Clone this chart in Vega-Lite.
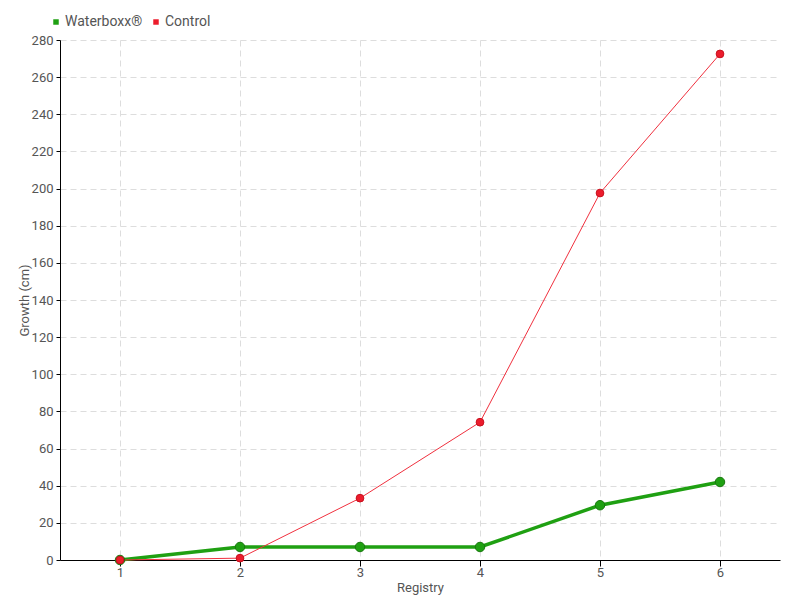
{
  "$schema": "https://vega.github.io/schema/vega-lite/v6.json",
  "width": 720,
  "height": 520,
  "autosize": {"type": "none"},
  "padding": {"left": 60, "top": 40, "right": 20, "bottom": 40},
  "background": "white",
  "config": {
    "font": "Roboto",
    "view": {"stroke": null},
    "axis": {
      "labelColor": "#555555",
      "titleColor": "#555555",
      "labelFontSize": 13,
      "titleFontSize": 13,
      "titleFontWeight": "normal",
      "domainColor": "#000000",
      "tickColor": "#000000",
      "gridColor": "#dddddd",
      "gridDash": [6, 4]
    }
  },
  "data": {
    "values": [
      {"registry": 1, "growth": 0, "series": "Waterboxx®"},
      {"registry": 2, "growth": 7, "series": "Waterboxx®"},
      {"registry": 3, "growth": 7, "series": "Waterboxx®"},
      {"registry": 4, "growth": 7, "series": "Waterboxx®"},
      {"registry": 5, "growth": 29.5, "series": "Waterboxx®"},
      {"registry": 6, "growth": 42, "series": "Waterboxx®"},
      {"registry": 1, "growth": 0, "series": "Control"},
      {"registry": 2, "growth": 1, "series": "Control"},
      {"registry": 3, "growth": 33.3, "series": "Control"},
      {"registry": 4, "growth": 74.2, "series": "Control"},
      {"registry": 5, "growth": 197.6, "series": "Control"},
      {"registry": 6, "growth": 272.5, "series": "Control"}
    ]
  },
  "encoding": {
    "x": {
      "field": "registry", "type": "quantitative",
      "scale": {"domain": [0.5, 6.5], "nice": false, "zero": false},
      "axis": {"values": [1, 2, 3, 4, 5, 6], "title": "Registry", "tickSize": 6, "labelPadding": 0, "titlePadding": 2}
    },
    "y": {
      "field": "growth", "type": "quantitative",
      "scale": {"domain": [0, 280], "nice": false},
      "axis": {"values": [0,20,40,60,80,100,120,140,160,180,200,220,240,260,280], "title": "Growth (cm)", "tickSize": 4, "labelPadding": 3, "titlePadding": 0}
    }
  },
  "layer": [
    {
      "transform": [{"filter": "datum.series === 'Waterboxx®'"}],
      "mark": {"type": "line", "color": "#1fa012", "strokeWidth": 3.5},
      "encoding": {}
    },
    {
      "transform": [{"filter": "datum.series === 'Control'"}],
      "mark": {"type": "line", "color": "#f0303e", "strokeWidth": 1},
      "encoding": {}
    },
    {
      "transform": [{"filter": "datum.series === 'Waterboxx®'"}],
      "mark": {"type": "point", "filled": true, "opacity": 1, "size": 90, "stroke": "#17770d", "strokeWidth": 1},
      "encoding": {
        "color": {
          "field": "series", "type": "nominal",
          "scale": {"domain": ["Waterboxx®", "Control"], "range": ["#1fa012", "#ec1c2c"]},
          "legend": {
            "title": null, "orient": "none", "direction": "horizontal",
            "legendX": -11, "legendY": -25, "symbolType": "square", "symbolSize": 30,
            "labelFontSize": 14, "labelColor": "#555555", "columnPadding": 6, "labelOffset": 2, "symbolStrokeWidth": 0
          }
        }
      }
    },
    {
      "transform": [{"filter": "datum.series === 'Control'"}],
      "mark": {"type": "point", "filled": true, "opacity": 1, "size": 60, "stroke": "#c8101e", "strokeWidth": 1},
      "encoding": {
        "color": {"field": "series", "type": "nominal"}
      }
    }
  ]
}
